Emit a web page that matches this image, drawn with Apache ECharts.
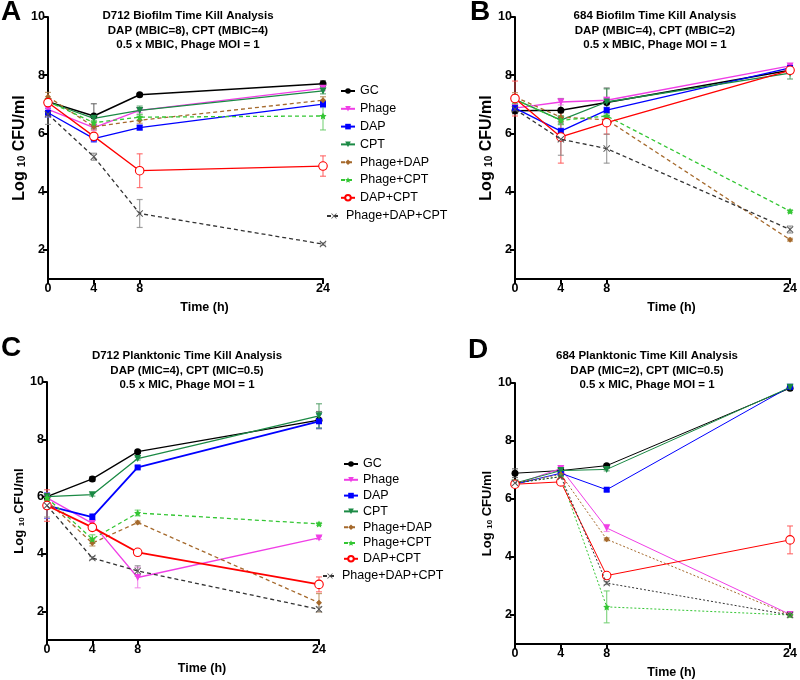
<!DOCTYPE html>
<html><head><meta charset="utf-8">
<script src="https://cdn.jsdelivr.net/npm/echarts@6/dist/echarts.min.js"></script>
<style>html,body{margin:0;padding:0;background:#fff}#c{width:800px;height:680px}</style>
</head><body><div id="c"></div>
<script>
// ---------------- DATA ----------------
const timesH = [0, 4, 8, 24];
const xTicks = [0, 4, 8, 24];
const yTicks = [2, 4, 6, 8, 10];
const seriesNames = ['GC', 'Phage', 'DAP', 'CPT', 'Phage+DAP', 'Phage+CPT', 'DAP+CPT', 'Phage+DAP+CPT'];
const panelLetters = ['A', 'B', 'C', 'D'];
const panelTitles = [
  'D712 Biofilm Time Kill Analysis\nDAP (MBIC=8), CPT (MBIC=4)\n0.5 x MBIC, Phage MOI = 1',
  '684 Biofilm Time Kill Analysis\nDAP (MBIC=4), CPT (MBIC=2)\n0.5 x MBIC, Phage MOI = 1',
  'D712 Planktonic Time Kill Analysis\nDAP (MIC=4), CPT (MIC=0.5)\n0.5 x MIC, Phage MOI = 1',
  '684 Planktonic Time Kill Analysis\nDAP (MIC=2), CPT (MIC=0.5)\n0.5 x MIC, Phage MOI = 1'
];
const xAxisName = 'Time (h)';

// rows follow seriesNames; columns follow timesH
const meanA = [
  [7.09, 6.60, 7.33, 7.71],
  [6.83, 6.20, 6.79, 7.55],
  [6.71, 5.82, 6.20, 7.01],
  [7.08, 6.52, 6.79, 7.46],
  [7.26, 6.23, 6.45, 7.14],
  [7.10, 6.37, 6.56, 6.60],
  [7.06, 5.90, 4.72, 4.88],
  [6.66, 5.20, 3.25, 2.20]
];
const errA = [
  [0.10, 0.42, 0.05, 0.10],
  [0.10, 0.10, 0.08, 0.08],
  [0.15, 0.12, 0.08, 0.12],
  [0.10, 0.10, 0.15, 0.10],
  [0.15, 0.10, 0.10, 0.12],
  [0.10, 0.08, 0.10, 0.48],
  [0.10, 0.10, 0.58, 0.35],
  [0.35, 0.12, 0.48, 0.04]
];
const meanB = [
  [6.78, 6.80, 7.06, 8.17],
  [6.87, 7.08, 7.14, 8.32],
  [6.87, 6.08, 6.80, 8.25],
  [7.17, 6.46, 7.08, 8.07],
  [7.25, 6.56, 6.47, 2.35],
  [7.17, 6.45, 6.60, 3.33],
  [7.20, 5.88, 6.37, 8.17],
  [6.83, 5.80, 5.48, 2.70]
];
const errB = [
  [0.10, 0.40, 0.50, 0.10],
  [0.10, 0.10, 0.10, 0.05],
  [0.10, 0.10, 0.10, 0.05],
  [0.15, 0.15, 0.45, 0.20],
  [0.15, 0.15, 0.10, 0.05],
  [0.15, 0.15, 0.10, 0.05],
  [0.60, 0.90, 0.40, 0.10],
  [0.15, 0.55, 0.50, 0.12]
];
const meanC = [
  [6.00, 6.62, 7.57, 8.67],
  [5.96, 5.07, 3.18, 4.56],
  [5.69, 5.29, 7.02, 8.63],
  [6.00, 6.07, 7.33, 8.82],
  [5.86, 4.38, 5.10, 2.30],
  [5.96, 4.52, 5.43, 5.05],
  [5.69, 4.93, 4.06, 2.94],
  [5.69, 3.86, 3.41, 2.07]
];
const errC = [
  [0.10, 0.08, 0.05, 0.30],
  [0.10, 0.10, 0.36, 0.05],
  [0.45, 0.12, 0.05, 0.25],
  [0.10, 0.05, 0.05, 0.42],
  [0.10, 0.10, 0.05, 0.32],
  [0.10, 0.15, 0.10, 0.05],
  [0.55, 0.08, 0.05, 0.26],
  [0.40, 0.05, 0.18, 0.08]
];
const meanD = [
  [6.89, 6.98, 7.15, 9.82],
  [6.51, 7.05, 5.00, 2.02],
  [6.51, 6.89, 6.32, 9.87],
  [6.55, 6.98, 7.02, 9.85],
  [6.55, 6.85, 4.61, 2.00],
  [6.55, 6.77, 2.28, 2.00],
  [6.51, 6.59, 3.36, 4.59],
  [6.55, 6.77, 3.10, 2.00]
];
const errD = [
  [0.15, 0.05, 0.05, 0.05],
  [0.05, 0.08, 0.12, 0.03],
  [0.05, 0.05, 0.05, 0.05],
  [0.05, 0.05, 0.05, 0.05],
  [0.05, 0.05, 0.05, 0.03],
  [0.05, 0.05, 0.55, 0.02],
  [0.05, 0.05, 0.05, 0.48],
  [0.05, 0.05, 0.05, 0.03]
];

// ---------------- STYLE ----------------
const FONT = 'Liberation Sans, Arial, sans-serif';
const colors = ['#000000', '#f03ee6', '#0000ff', '#1b8a45', '#a5692c', '#33c633', '#ff0000', '#333333'];
const errColors = ['#555555', '#f07ee8', '#5a5aff', '#4a9a60', '#b58850', '#66cc66', '#ff5555', '#888888'];
const STAR = 'path://M0,-10 L2.9,-4 9.5,-3.1 4.8,1.5 5.9,8.1 0,5 -5.9,8.1 -4.8,1.5 -9.5,-3.1 -2.9,-4Z';
const XMARK = 'path://M1,0 L5,4 L9,0 L10,1 L6,5 L10,9 L9,10 L5,6 L1,10 L0,9 L4,5 L0,1Z';
const symbols = ['circle', 'triangle', 'rect', 'triangle', 'diamond', STAR, 'circle', XMARK];
const symRot = [0, 180, 0, 180, 0, 0, 0, 0];
const symSize = [7, 7, 6, 7, 6, 7, 8.5, 7];
const dashed = [false, false, false, false, true, true, false, true];

const grids = [
  { left: 48, top: 17, width: 275, height: 262 },
  { left: 515, top: 17, width: 278, height: 262 },
  { left: 47, top: 382, width: 272, height: 258 },
  { left: 515, top: 383, width: 278, height: 263 }
];
const means = [meanA, meanB, meanC, meanD];
const errs = [errA, errB, errC, errD];
const titleCenters = [[183, 4], [650, 4], [182, 344], [642, 344]];
const letterPos = [[-4, -7], [465, -7], [-4, 329], [463, 331]];
const yNameSize = [16, 16, 13, 13];
const yNameGap = [20, 20, 21, 21];

const xAxes = grids.map((g, p) => ({
  type: 'value', gridIndex: p, min: 0, max: 24,
  axisLine: { show: true, onZero: false, lineStyle: { color: '#000', width: 2 } },
  axisTick: { show: true, customValues: xTicks, length: 5, lineStyle: { color: '#000', width: 2 } },
  axisLabel: { customValues: xTicks, color: '#000', fontWeight: 'bold', fontSize: 12.5, margin: 3, fontFamily: FONT },
  splitLine: { show: false },
  name: xAxisName, nameLocation: 'middle', nameGap: 22,
  nameTextStyle: { color: '#000', fontWeight: 'bold', fontSize: 12.5, fontFamily: FONT, padding: [0, 0, 0, 38] }
}));
const yAxes = grids.map((g, p) => ({
  type: 'value', gridIndex: p, min: 1, max: 10,
  axisLine: { show: true, onZero: false, lineStyle: { color: '#000', width: 2 } },
  axisTick: { show: true, customValues: yTicks, length: 5, lineStyle: { color: '#000', width: 2 } },
  axisLabel: { customValues: yTicks, color: '#000', fontWeight: 'bold', fontSize: 12.5, margin: 3, fontFamily: FONT },
  splitLine: { show: false },
  name: '{b|Log }{s|10}{b| CFU/ml}', nameLocation: 'middle', nameGap: yNameGap[p],
  nameTextStyle: {
    rich: {
      b: { fontSize: yNameSize[p], fontWeight: 'bold', color: '#000', fontFamily: FONT },
      s: { fontSize: Math.round(yNameSize[p] * 0.62), fontWeight: 'bold', color: '#000', fontFamily: FONT, verticalAlign: 'bottom' }
    }
  }
}));

const series = [];
means.forEach((mean, p) => {
  // error bars
  const errData = [];
  mean.forEach((row, i) => row.forEach((v, k) => {
    const e = errs[p][i][k];
    if (e > 0) errData.push([timesH[k], v - e, v + e, i]);
  }));
  series.push({
    type: 'custom', xAxisIndex: p, yAxisIndex: p, silent: true, z: 1,
    data: errData,
    renderItem: (params, api) => {
      const x = api.value(0), lo = api.value(1), hi = api.value(2), si = api.value(3);
      const a = api.coord([x, lo]), b = api.coord([x, hi]);
      const st = { stroke: errColors[si], lineWidth: 1.2, opacity: 0.8 };
      return { type: 'group', children: [
        { type: 'line', shape: { x1: a[0], y1: a[1], x2: b[0], y2: b[1] }, style: st },
        { type: 'line', shape: { x1: a[0] - 3, y1: a[1], x2: a[0] + 3, y2: a[1] }, style: st },
        { type: 'line', shape: { x1: b[0] - 3, y1: b[1], x2: b[0] + 3, y2: b[1] }, style: st }
      ] };
    }
  });
  mean.forEach((row, i) => {
    let lw = 1.3;
    if (p === 2 && (i === 2 || i === 6)) lw = 1.8;
    if (p === 3) lw = 1;
    if (i === 0 && p < 2) lw = 1.5;
    series.push({
      type: 'line', name: seriesNames[i], xAxisIndex: p, yAxisIndex: p, z: 2 + i,
      data: timesH.map((t, k) => [t, row[k]]),
      symbol: symbols[i], symbolSize: symSize[i], symbolRotate: symRot[i],
      color: colors[i],
      lineStyle: { color: colors[i], width: lw, type: dashed[i] ? (p === 3 ? [2, 2] : [4, 3]) : 'solid' },
      itemStyle: i === 6 ? { color: '#ffffff', borderColor: colors[i], borderWidth: 1.1 } : { color: i === 7 ? '#555' : colors[i] },
      emphasis: { disabled: true }
    });
  });
});

const titles = [];
panelTitles.forEach((t, p) => {
  titles.push({
    text: t, left: titleCenters[p][0], top: titleCenters[p][1], textAlign: 'center',
    textStyle: { fontSize: 11.5, fontWeight: 'bold', color: '#000', lineHeight: 14.5, fontFamily: FONT }
  });
  titles.push({
    text: panelLetters[p], left: letterPos[p][0], top: letterPos[p][1],
    textStyle: { fontSize: 28, fontWeight: 'bold', color: '#000', fontFamily: FONT }
  });
});

const legendBase = {
  orient: 'vertical', selectedMode: false, itemWidth: 14, itemHeight: 7, itemGap: 3.8,
  textStyle: { fontSize: 12.5, color: '#000', fontFamily: FONT, lineHeight: 14 }
};
const legends = [
  Object.assign({}, legendBase, { data: seriesNames.slice(0, 7), left: 335, top: 79 }),
  Object.assign({}, legendBase, { data: seriesNames.slice(7), left: 321, top: 204 }),
  Object.assign({}, legendBase, { data: seriesNames.slice(0, 7), left: 338, top: 452, itemGap: 1.8 }),
  Object.assign({}, legendBase, { data: seriesNames.slice(7), left: 317, top: 564 })
];

const chart = echarts.init(document.getElementById('c'), null, { renderer: 'canvas' });
chart.setOption({
  animation: false,
  backgroundColor: '#fff',
  textStyle: { fontFamily: FONT },
  title: titles,
  legend: legends,
  grid: grids,
  xAxis: xAxes,
  yAxis: yAxes,
  series: series
});
</script></body></html>
